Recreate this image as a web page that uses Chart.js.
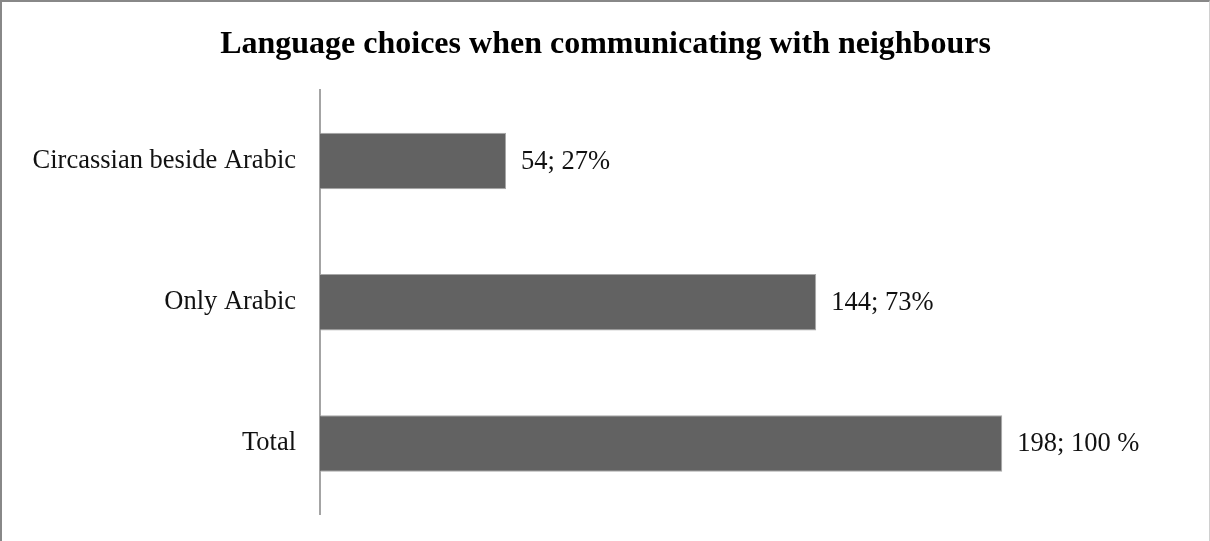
<!DOCTYPE html>
<html>
<head>
<meta charset="utf-8">
<script src="https://cdn.jsdelivr.net/npm/chart.js@4"></script>
<style>
  html, body { margin: 0; padding: 0; background: #fff; }
  #wrap {
    width: 1207px; height: 539px;
    border-top: 2px solid #888; border-left: 2px solid #888; border-right: 1px solid #d0d0d0;
    position: relative;
  }
</style>
</head>
<body>
<div id="wrap"><canvas id="myChart"></canvas></div>
<script>
var categories = ["Circassian beside Arabic", "Only Arabic", "Total"];
var counts = [54, 144, 198];
var valueLabels = ["54; 27%", "144; 73%", "198; 100 %"];
var chartTitle = "Language choices when communicating with neighbours";

// writes "count; percent" just past the end of each bar
var barLabels = {
  id: "barLabels",
  afterDatasetsDraw(chart) {
    var ctx = chart.ctx;
    var meta = chart.getDatasetMeta(0);
    ctx.save();
    ctx.font = "26.5px 'Liberation Serif'";
    ctx.fillStyle = "#111";
    ctx.textAlign = "left";
    ctx.textBaseline = "middle";
    meta.data.forEach((bar, i) => {
      ctx.fillText(valueLabels[i], bar.x + 15, bar.y + 1);
    });
    ctx.restore();
  }
};

new Chart("myChart", {
  type: "bar",
  data: {
    labels: categories,
    datasets: [{
      data: counts,
      backgroundColor: "#626262",
      borderColor: "#a8a8a8",
      borderWidth: 1,
      barPercentage: 0.4,
      categoryPercentage: 1
    }]
  },
  options: {
    indexAxis: "y",
    responsive: true,
    maintainAspectRatio: false,
    animation: false,
    layout: { padding: { left: 0, right: 0, top: 0, bottom: 27 } },
    plugins: {
      legend: { display: false },
      tooltip: { enabled: false },
      title: {
        display: true,
        text: chartTitle,
        color: "#000",
        font: { family: "'Liberation Serif'", size: 32, weight: "bold" },
        padding: { top: 24, bottom: 26 }
      }
    },
    scales: {
      x: { display: false, min: 0, max: 258 },
      y: {
        afterFit: s => {
          s.width = 318;
          s.paddingTop = 0;
          s.paddingBottom = 0;
        },
        grid: { display: false, drawTicks: false },
        border: { display: true, color: "#a4a4a4", width: 2 },
        ticks: {
          color: "#111",
          padding: 24,
          font: { family: "'Liberation Serif'", size: 26.5 }
        }
      }
    }
  },
  plugins: [barLabels]
});
</script>
</body>
</html>
